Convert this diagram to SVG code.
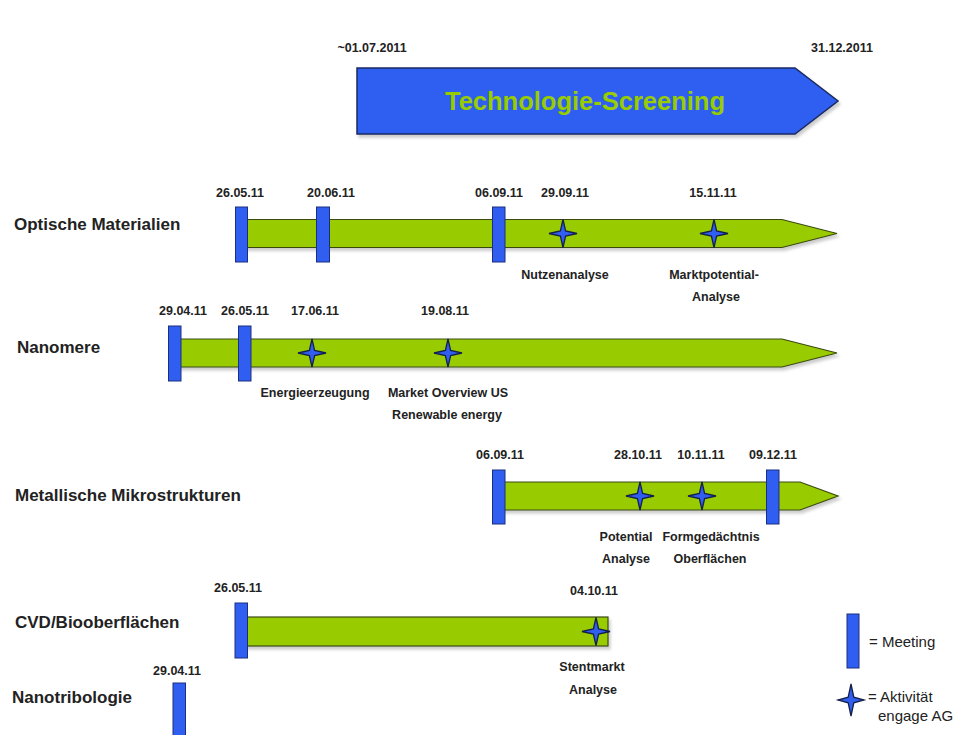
<svg xmlns="http://www.w3.org/2000/svg" width="978" height="735" viewBox="0 0 978 735">
<defs>
<style>
.bg{fill:#ffffff}
.date{font-family:"Liberation Sans",Arial,sans-serif;font-weight:bold;font-size:12.5px;fill:#222;text-anchor:middle}
.lbl{font-family:"Liberation Sans",Arial,sans-serif;font-weight:bold;font-size:12.5px;fill:#222;text-anchor:middle}
.row{font-family:"Liberation Sans",Arial,sans-serif;font-weight:bold;font-size:17px;fill:#222}
.leg{font-family:"Liberation Sans",Arial,sans-serif;font-size:15px;fill:#222}
.bar{fill:#99cc00;stroke:#3a4a10;stroke-width:1.2;filter:url(#sh)}
.meet{fill:#2f5ef0;stroke:#1b2f80;stroke-width:1}
.star{fill:#2f5ef0;stroke:#15204a;stroke-width:1.3;stroke-linejoin:miter}
.big{fill:#2f5ef0;stroke:#1b2a60;stroke-width:1.5;filter:url(#sh)}
.title{font-family:"Liberation Sans",Arial,sans-serif;font-weight:bold;font-size:25.5px;fill:#99cc00;text-anchor:middle}
</style>
<filter id="sh" x="-5%" y="-30%" width="110%" height="160%">
<feDropShadow dx="2" dy="3" stdDeviation="1.5" flood-color="#000" flood-opacity="0.2"/>
</filter>
<path id="st" d="M0,-14 L2.6,-2.6 L14,0 L2.6,2.6 L0,14 L-2.6,2.6 L-14,0 L-2.6,-2.6 Z"/>
<path id="stl" d="M0,-16 L2.8,-2.8 L13,0 L2.8,2.8 L0,16 L-2.8,2.8 L-13,0 L-2.8,-2.8 Z"/>
</defs>
<rect class="bg" x="0" y="0" width="978" height="735"/>

<g id="screening">
<text class="date" x="372" y="52">~01.07.2011</text>
<text class="date" x="842" y="52">31.12.2011</text>
<polygon class="big" points="357,68 795,68 838,101 795,134 357,134"/>
<text class="title" x="585" y="110">Technologie-Screening</text>
</g>

<g id="optische">
<text class="row" x="14" y="230">Optische Materialien</text>
<polygon class="bar" points="241,219.5 782,219.5 837,233.5 782,247.5 241,247.5"/>
<rect class="meet" x="235.5" y="207" width="12" height="55"/>
<rect class="meet" x="316.5" y="207" width="13" height="55"/>
<rect class="meet" x="492.5" y="207" width="12.5" height="55"/>
<use href="#st" class="star" x="563" y="233.5"/>
<use href="#st" class="star" x="714" y="233.5"/>
<text class="date" x="240" y="197">26.05.11</text>
<text class="date" x="331" y="197">20.06.11</text>
<text class="date" x="499" y="197">06.09.11</text>
<text class="date" x="565" y="197">29.09.11</text>
<text class="date" x="713" y="197">15.11.11</text>
<text class="lbl" x="565" y="279">Nutzenanalyse</text>
<text class="lbl" x="714" y="279">Marktpotential-</text>
<text class="lbl" x="716" y="301">Analyse</text>
</g>

<g id="nanomere">
<text class="row" x="17" y="353">Nanomere</text>
<polygon class="bar" points="175,339 782,339 837,353 782,367 175,367"/>
<rect class="meet" x="168.5" y="326" width="12.5" height="55"/>
<rect class="meet" x="238.5" y="326" width="12.5" height="55"/>
<use href="#st" class="star" x="312" y="353"/>
<use href="#st" class="star" x="448" y="353"/>
<text class="date" x="183" y="315">29.04.11</text>
<text class="date" x="245" y="315">26.05.11</text>
<text class="date" x="315" y="315">17.06.11</text>
<text class="date" x="445" y="315">19.08.11</text>
<text class="lbl" x="315" y="397">Energieerzeugung</text>
<text class="lbl" x="448" y="397">Market Overview US</text>
<text class="lbl" x="447" y="419">Renewable energy</text>
</g>

<g id="metallische">
<text class="row" x="15" y="501">Metallische Mikrostrukturen</text>
<polygon class="bar" points="499,482 800,482 838,496 800,510 499,510"/>
<rect class="meet" x="492.5" y="470" width="12.5" height="54"/>
<rect class="meet" x="766.5" y="470" width="12.5" height="54"/>
<use href="#st" class="star" x="640" y="496"/>
<use href="#st" class="star" x="702" y="496"/>
<text class="date" x="500" y="459">06.09.11</text>
<text class="date" x="638" y="459">28.10.11</text>
<text class="date" x="701" y="459">10.11.11</text>
<text class="date" x="773" y="459">09.12.11</text>
<text class="lbl" x="626" y="541">Potential</text>
<text class="lbl" x="626" y="563">Analyse</text>
<text class="lbl" x="711" y="541">Formgedächtnis</text>
<text class="lbl" x="710" y="563">Oberflächen</text>
</g>

<g id="cvd">
<text class="row" x="15" y="628">CVD/Biooberflächen</text>
<rect class="bar" x="241" y="617" width="367" height="29"/>
<rect class="meet" x="235" y="603" width="12.5" height="55"/>
<use href="#st" class="star" x="596" y="631.5"/>
<text class="date" x="238" y="592">26.05.11</text>
<text class="date" x="594" y="595">04.10.11</text>
<text class="lbl" x="592" y="671">Stentmarkt</text>
<text class="lbl" x="593" y="694">Analyse</text>
</g>

<g id="nanotribologie">
<text class="row" x="12" y="703">Nanotribologie</text>
<rect class="meet" x="173" y="683" width="12.5" height="60"/>
<text class="date" x="177" y="675">29.04.11</text>
</g>

<g id="legend">
<rect class="meet" x="847" y="614" width="12" height="54"/>
<text class="leg" x="869" y="647">= Meeting</text>
<use href="#stl" class="star" x="851" y="700"/>
<text class="leg" x="868" y="702">= Aktivität</text>
<text class="leg" x="878" y="721">engage AG</text>
</g>
</svg>
